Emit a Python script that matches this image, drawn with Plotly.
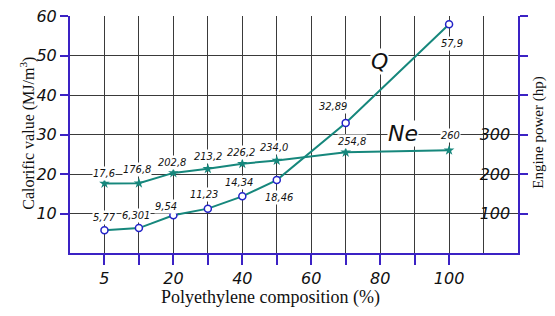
import plotly.graph_objects as go

# ---- data ----
axis_steps = [5, 10, 20, 30, 40, 50, 60, 70, 80, 90, 100, 110]
x_tick_labels = ["5", "", "20", "", "40", "", "60", "", "80", "", "100"]
composition = [5, 10, 20, 30, 40, 50, 70, 100]
q_values = [5.77, 6.301, 9.54, 11.23, 14.34, 18.46, 32.89, 57.9]
q_labels = ["5,77", "6,301", "9,54", "11,23", "14,34", "18,46", "32,89", "57,9"]
ne_values = [176, 176.8, 202.8, 213.2, 226.2, 234.0, 254.8, 260]
ne_labels = ["17,6", "176,8", "202,8", "213,2", "226,2", "234,0", "254,8", "260"]
y_left_ticks = [10, 20, 30, 40, 50, 60]
y_right_ticks = [100, 200, 300, 400, 500, 600]
y_right_labels = ["100", "200", "300", " ", " ", " "]

# ---- styles ----
TEAL = "#16877c"
BLUE = "#3b22c4"
MARK_BLUE = "#2323c8"
GRID = "#3a3a3a"
TICKFONT = dict(family="DejaVu Sans", size=16, color="#111", style="italic")
LBLFONT = dict(family="DejaVu Sans Condensed, DejaVu Sans", size=11, color="#111", style="italic")
q_offsets = [(0, -13), (-3, -13), (-7, -9), (-4, -14), (-3, -14), (2, 17), (-13, -17), (3, 19)]
ne_offsets = [(0, -10), (-2, -14), (-1, -10), (0, -12), (-1, -11), (-3, -13), (6, -11), (1, -15)]

x_pos = [axis_steps.index(v) for v in composition]

fig = go.Figure()
fig.add_trace(go.Scatter(
    x=x_pos, y=ne_values, yaxis="y2", mode="lines+markers",
    line=dict(color=TEAL, width=2),
    marker=dict(symbol="star", size=8, color=TEAL),
    showlegend=False, cliponaxis=False))
fig.add_trace(go.Scatter(
    x=x_pos, y=q_values, mode="lines+markers",
    line=dict(color=TEAL, width=2),
    marker=dict(symbol="circle", size=7, color="white",
                line=dict(color=MARK_BLUE, width=1.5)),
    showlegend=False, cliponaxis=False))

annotations = []
for xp, v, t, (dx, dy) in zip(x_pos, q_values, q_labels, q_offsets):
    annotations.append(dict(x=xp, y=v, xref="x", yref="y", text=t, showarrow=False,
                            xshift=dx, yshift=-dy, font=LBLFONT, bgcolor="white", borderpad=0))
for xp, v, t, (dx, dy) in zip(x_pos, ne_values, ne_labels, ne_offsets):
    annotations.append(dict(x=xp, y=v, xref="x", yref="y2", text=t, showarrow=False,
                            xshift=dx, yshift=-dy, font=LBLFONT, bgcolor="white", borderpad=0))
annotations += [
    dict(x=7.97, y=48.5, xref="x", yref="y", text="Q", showarrow=False,
         font=dict(family="DejaVu Sans", size=22, color="#111", style="italic"),
         bgcolor="white", borderpad=0),
    dict(x=8.66, y=30.2, xref="x", yref="y", text="Ne", showarrow=False,
         font=dict(family="DejaVu Sans", size=22, color="#111", style="italic"),
         bgcolor="white", borderpad=0),
]

# page has an 8px body margin; figure placed at (8, 8) and sized to fit the window
OFF = 8
W, H = 555 - 2 * OFF, 316 - 2 * OFF
L = 70 - OFF
T = 16 - OFF
R = W - (518 - OFF)
B = H - (253.5 - OFF)
pw, ph = W - L - R, H - T - B


def title_ann(text, px, py, size, angle=0):
    px, py = px - OFF, py - OFF
    return dict(x=(px - L) / pw, y=(H - B - py) / ph, xref="paper", yref="paper",
                xanchor="center", yanchor="middle", text=text, showarrow=False,
                textangle=angle, font=dict(family="Liberation Serif", size=size, color="#111"))


annotations += [
    title_ann("Calorific value (MJ/m<sup>3</sup>)", 28, 134, 16, -90),
    title_ann("Engine power (hp)", 539, 133, 15, -90),
    title_ann("Polyethylene composition (%)", 270, 298, 18),
]

fig.update_layout(
    width=W, height=H,
    margin=dict(l=L, r=R, t=T, b=B, autoexpand=False),
    paper_bgcolor="white", plot_bgcolor="white",
    annotations=annotations,
    xaxis=dict(range=[-1, 12], tickmode="array", tickvals=list(range(11)),
               ticktext=x_tick_labels, ticks="outside", ticklen=10, tickwidth=2,
               tickcolor=BLUE, showline=True, linecolor=BLUE, linewidth=2,
               showgrid=True, gridcolor=GRID, gridwidth=1, zeroline=False,
               tickfont=TICKFONT, automargin=False, ticklabeloverflow="allow",
               minor=dict(tickmode="array", tickvals=[11], showgrid=True,
                          gridcolor=GRID, gridwidth=1, ticks="")),
    yaxis=dict(range=[0, 60], tickmode="array", tickvals=y_left_ticks,
               ticks="outside", ticklen=8, tickwidth=2, tickcolor=BLUE,
               showline=True, linecolor=BLUE, linewidth=2,
               showgrid=True, gridcolor=GRID, gridwidth=1, zeroline=False,
               tickfont=TICKFONT, automargin=False, ticklabeloverflow="allow"),
    yaxis2=dict(range=[0, 600], overlaying="y", side="right", tickmode="array",
                tickvals=y_right_ticks, ticktext=y_right_labels,
                ticks="outside", ticklen=8, tickwidth=2, tickcolor=BLUE,
                ticklabelposition="inside", ticklabelstandoff=8,
                ticklabeloverflow="allow", showline=True, linecolor=BLUE,
                linewidth=2, showgrid=False, zeroline=False, tickfont=TICKFONT,
                automargin=False),
)
fig.write_html("out.html")
